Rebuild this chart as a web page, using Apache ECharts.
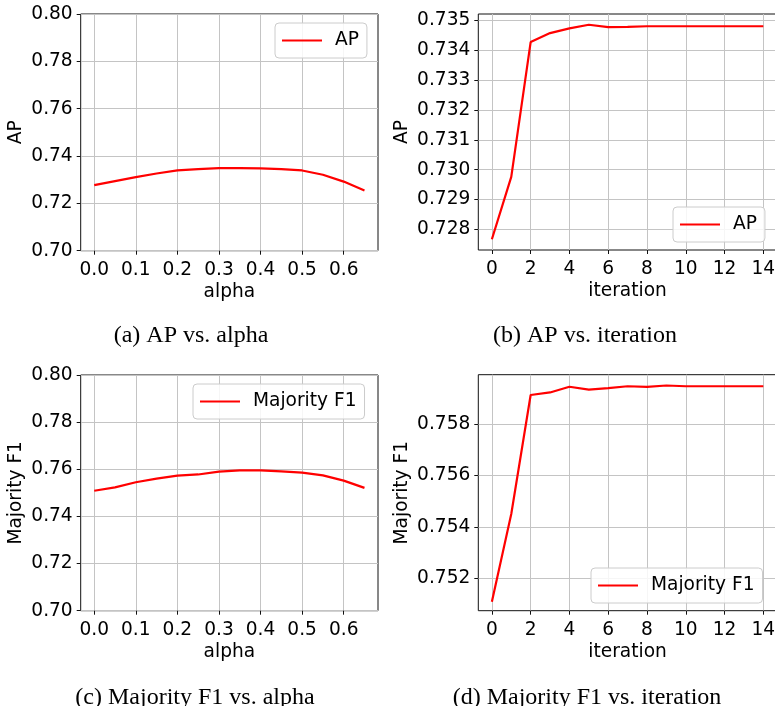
<!DOCTYPE html>
<html>
<head>
<meta charset="utf-8">
<script src="https://cdn.jsdelivr.net/npm/echarts@6/dist/echarts.min.js"></script>
<style>
html,body{margin:0;padding:0;background:#fff;}
#chart{width:775px;height:706px;}
</style>
</head>
<body>
<div id="chart"></div>
<script>
// ---- data ----
const alphaValues = [0.0, 0.05, 0.1, 0.15, 0.2, 0.25, 0.3, 0.35, 0.4, 0.45, 0.5, 0.55, 0.6, 0.65];
const apByAlpha   = [0.7277, 0.7294, 0.7311, 0.7326, 0.7339, 0.7345, 0.7349, 0.7349, 0.7348, 0.7345, 0.7339, 0.7321, 0.7292, 0.7254];
const f1ByAlpha   = [0.7509, 0.7523, 0.7545, 0.7560, 0.7573, 0.7578, 0.7590, 0.7595, 0.7595, 0.7591, 0.7586, 0.7574, 0.7552, 0.7521];

const iterations  = [0, 1, 2, 3, 4, 5, 6, 7, 8, 9, 10, 11, 12, 13, 14];
const apByIter    = [0.72767, 0.72976, 0.73428, 0.73458, 0.73474, 0.73486, 0.73478, 0.73479, 0.73481, 0.73481, 0.73481, 0.73481, 0.73481, 0.73481, 0.73481];
const f1ByIter    = [0.75109, 0.75450, 0.75913, 0.75923, 0.75945, 0.75934, 0.75940, 0.75947, 0.75945, 0.75950, 0.75947, 0.75947, 0.75947, 0.75947, 0.75947];

// tick labels
const alphaTicks  = [0.0, 0.1, 0.2, 0.3, 0.4, 0.5, 0.6];
const iterTicks   = [0, 2, 4, 6, 8, 10, 12, 14];
const yTicksAlpha = [0.70, 0.72, 0.74, 0.76, 0.78, 0.80];
const yTicksApIter = [0.728, 0.729, 0.730, 0.731, 0.732, 0.733, 0.734, 0.735];
const yTicksF1Iter = [0.752, 0.754, 0.756, 0.758];

const captions = ['(a) AP vs. alpha', '(b) AP vs. iteration', '(c) Majority F1 vs. alpha', '(d) Majority F1 vs. iteration'];

// ---- styling / layout ----
const FONT = 'DejaVu Sans';
const FS = 18.6;
const SPINE = '#111111';
const GRIDC = '#c4c4c4';

function pair(xs, ys) { return xs.map((x, i) => [x, ys[i]]); }

const grids = [
  {left: 80.7, top: 14, width: 297.3, height: 236.7},
  {left: 478.3, top: 14, width: 298.6, height: 236},
  {left: 80.7, top: 375, width: 297.3, height: 235.7},
  {left: 478.3, top: 374.7, width: 298.6, height: 236}
].map(g => Object.assign({show: true, borderColor: SPINE, borderWidth: 1, backgroundColor: 'transparent', outerBoundsMode: 'none', containLabel: false}, g));

function xAxis(gi, min, max, ticks, name, dec) {
  return {
    type: 'value', gridIndex: gi, min: min, max: max, name: name,
    nameLocation: 'middle', nameGap: 32,
    nameTextStyle: {fontFamily: FONT, fontSize: FS, color: '#000'},
    axisLine: {show: false, onZero: false},
    axisTick: {show: true, length: 4, lineStyle: {color: SPINE, width: 1}, customValues: ticks},
    axisLabel: {fontFamily: FONT, fontSize: FS, color: '#000', margin: 9.5, customValues: ticks,
      formatter: v => Number(v).toFixed(dec)},
    splitLine: {show: true, lineStyle: {color: GRIDC, width: 1}}
  };
}
function yAxis(gi, min, max, ticks, name, dec, gap) {
  return {
    type: 'value', gridIndex: gi, min: min, max: max, name: name,
    nameLocation: 'middle', nameGap: gap, nameRotate: 90,
    nameTextStyle: {fontFamily: FONT, fontSize: FS, color: '#000'},
    axisLine: {show: false, onZero: false},
    axisTick: {show: true, length: 4, lineStyle: {color: SPINE, width: 1}, customValues: ticks},
    axisLabel: {fontFamily: FONT, fontSize: FS, color: '#000', margin: 8, customValues: ticks,
      formatter: v => Number(v).toFixed(dec)},
    splitLine: {show: true, lineStyle: {color: GRIDC, width: 1}}
  };
}

function legend(name, left, top) {
  return {
    data: [{name: name, icon: 'rect'}], left: left, top: top, orient: 'horizontal',
    padding: [8, 8, 8, 7], itemWidth: 40, itemHeight: 2,
    backgroundColor: 'rgba(255,255,255,0.85)', borderColor: '#cccccc', borderWidth: 1, borderRadius: 4,
    textStyle: {fontFamily: FONT, fontSize: FS, color: '#000', padding: [0, 0, 0, 8]},
    selectedMode: false
  };
}

function series(name, gi, data) {
  return {
    type: 'line', name: name, xAxisIndex: gi, yAxisIndex: gi, data: data,
    symbol: 'none', lineStyle: {color: '#ff0000', width: 2.2}, itemStyle: {color: '#ff0000'},
    animation: false
  };
}

function caption(text, cx, cy) {
  return {type: 'text', x: cx, y: cy, style: {text: text, fontFamily: 'Liberation Serif', fontSize: 24, fill: '#000', align: 'center', verticalAlign: 'middle'}};
}

const option = {
  animation: false,
  backgroundColor: '#fff',
  grid: grids,
  xAxis: [
    xAxis(0, -0.0325, 0.6825, alphaTicks, 'alpha', 1),
    xAxis(1, -0.7, 14.7, iterTicks, 'iteration', 0),
    xAxis(2, -0.0325, 0.6825, alphaTicks, 'alpha', 1),
    xAxis(3, -0.7, 14.7, iterTicks, 'iteration', 0)
  ],
  yAxis: [
    yAxis(0, 0.70, 0.80, yTicksAlpha, 'AP', 2, 55),
    yAxis(1, 0.72731, 0.73522, yTicksApIter, 'AP', 3, 67),
    yAxis(2, 0.70, 0.80, yTicksAlpha, 'Majority F1', 2, 55),
    yAxis(3, 0.75074, 0.75992, yTicksF1Iter, 'Majority F1', 3, 67)
  ],
  legend: [
    legend('AP', 275, 23),
    legend('AP', 673, 207),
    legend('Majority F1', 193, 384),
    legend('Majority F1', 591, 568)
  ],
  series: [
    series('AP', 0, pair(alphaValues, apByAlpha)),
    series('AP', 1, pair(iterations, apByIter)),
    series('Majority F1', 2, pair(alphaValues, f1ByAlpha)),
    series('Majority F1', 3, pair(iterations, f1ByIter))
  ],
  graphic: [
    caption(captions[0], 191, 336),
    caption(captions[1], 585, 336),
    caption(captions[2], 195, 698),
    caption(captions[3], 587, 698)
  ]
};

const chart = echarts.init(document.getElementById('chart'), null, {renderer: 'canvas'});
chart.setOption(option);
</script>
</body>
</html>
